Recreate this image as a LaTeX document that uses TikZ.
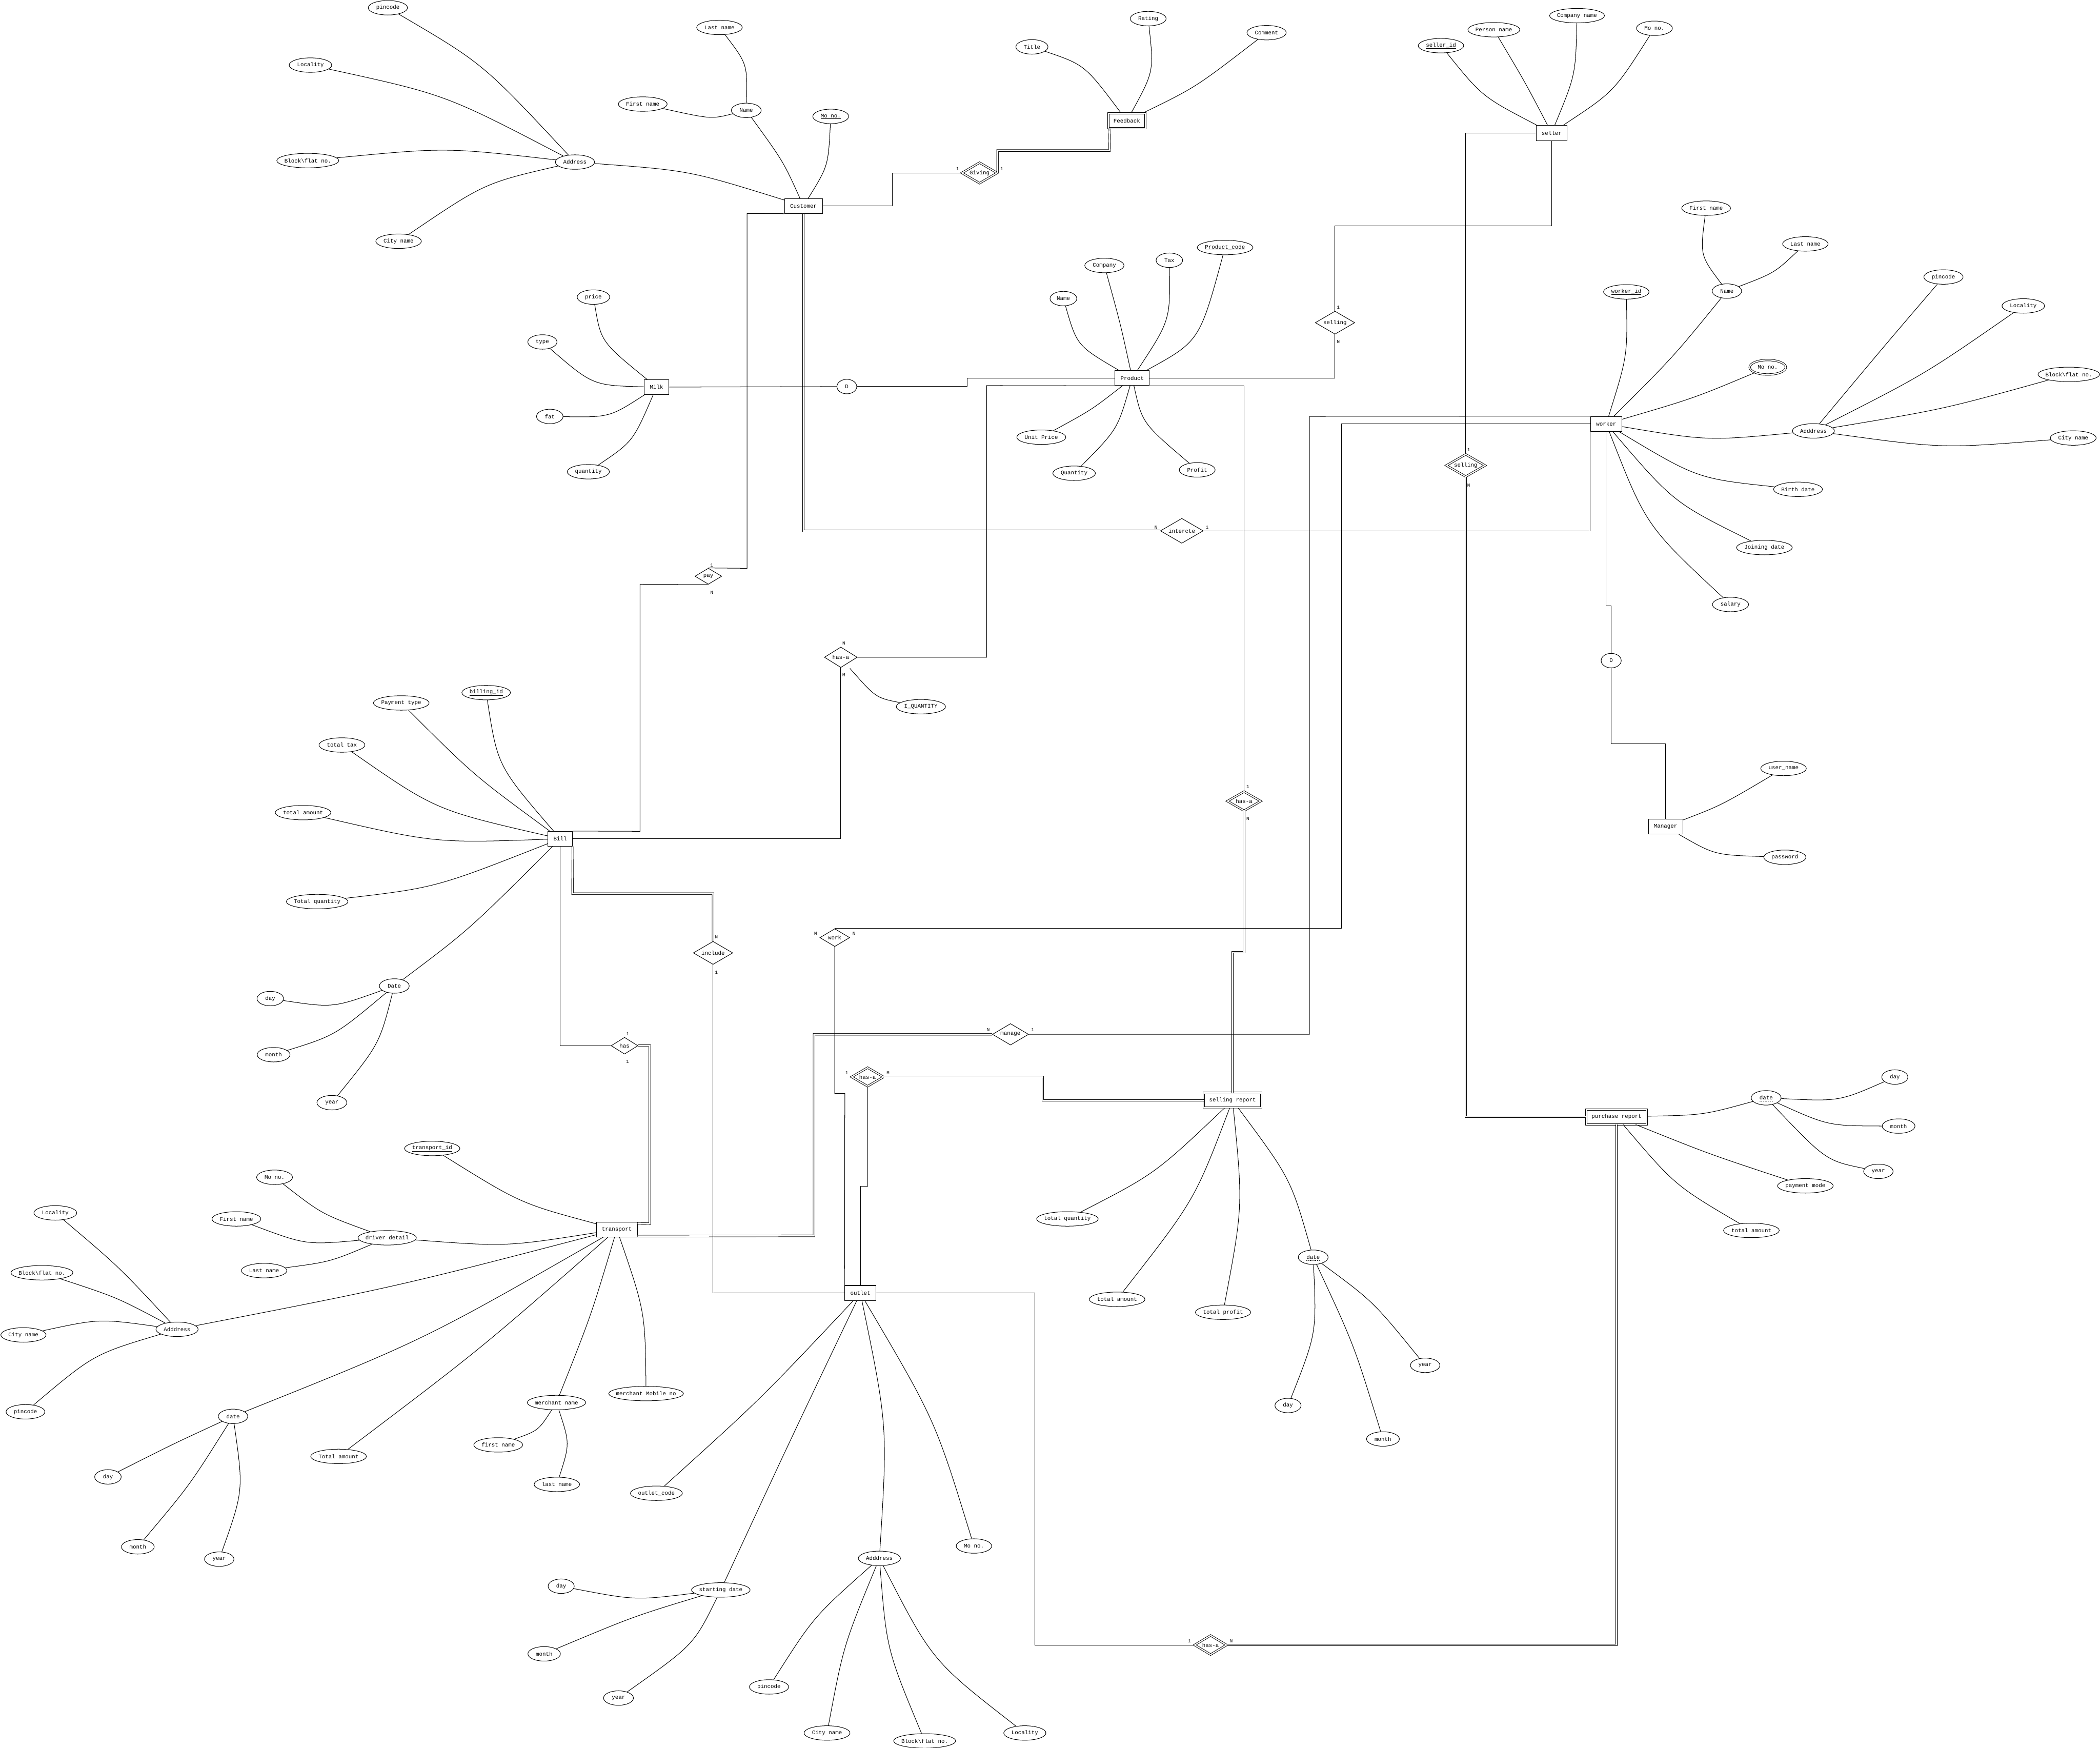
\documentclass[tikz,border=0pt]{standalone}
\usepackage{fontspec}
\newfontfamily\monof{Liberation Mono}
\usetikzlibrary{shapes.geometric,calc}
\tikzset{
 every node/.style={font=\monof\fontsize{11.8}{14}\selectfont},
 attr/.style={ellipse, draw, line width=1.1pt, minimum height=10.8mm, inner sep=0pt, fill=white},
 ent/.style={rectangle, draw, line width=1.1pt, inner sep=0pt, fill=white},
 rel/.style={diamond, draw, line width=1.1pt, inner sep=0pt, fill=white},
 weak/.style={double=white, double distance=2.4pt, line width=1.05pt},
 ln/.style={line width=1.1pt},
 dbl/.style={double=white, double distance=2.8pt, line width=1.0pt},
 card/.style={font=\monof\fontsize{10}{12}\selectfont, inner sep=0pt},
 dashul/.style={line width=0.8pt, dash pattern=on 2.2pt off 1.5pt}
}
\newcommand\attrnode[5]{\node[attr,minimum width=#4mm] (#1) at (#2,#3) {\makebox[0pt]{#5}};}
\newcommand\mattrnode[5]{\node[attr,weak,minimum width=#4mm] (#1) at (#2,#3) {\makebox[0pt]{#5}};}
\newcommand\entnode[6]{\node[ent,minimum width=#4mm,minimum height=#5mm] (#1) at (#2,#3) {\makebox[0pt]{#6}};}
\newcommand\wentnode[6]{\node[ent,weak,minimum width=#4mm,minimum height=#5mm] (#1) at (#2,#3) {\makebox[0pt]{#6}};}
\newcommand\relnode[6]{\node[rel,minimum width=#4mm,minimum height=#5mm] (#1) at (#2,#3) {\makebox[0pt]{#6}};}
\newcommand\wrelnode[6]{\node[rel,weak,minimum width=#4mm,minimum height=#5mm] (#1) at (#2,#3) {\makebox[0pt]{#6}};}
\newcommand\cv[4]{\draw[ln] (#1) .. controls (#3,#4) .. (#2);}
\newcommand\cardnode[4]{\node[card] (#1) at (#2,#3) {#4};}
\newcommand\bsl{\textbackslash}
\begin{document}
\begin{tikzpicture}[x=1mm,y=-1mm]
\fill[white] (0,0) rectangle (1568,1305);
\useasboundingbox (0,0) rectangle (1568,1305);

% ---------- Customer ----------
\attrnode{cpin}{289.6}{5.8}{29.3}{pincode}
\attrnode{cloc}{231.8}{48.6}{31.8}{Locality}
\attrnode{cblk}{229.8}{119.9}{46.3}{Block\bsl flat no.}
\attrnode{ccity}{297.6}{180.1}{34}{City name}
\attrnode{caddr}{429.3}{121.0}{29.3}{Address}
\attrnode{clast}{537.2}{20.5}{34}{Last name}
\attrnode{cfirst}{479.9}{77.7}{36.5}{First name}
\attrnode{cname}{557.2}{82.4}{22.3}{Name}
\attrnode{cmo}{620.3}{86.9}{26.8}{\underline{Mo no.}}
\entnode{cust}{599.9}{153.8}{28.3}{11.1}{Customer}

% ---------- Milk ----------
\attrnode{mprice}{443.1}{221.8}{24.3}{price}
\attrnode{mtype}{405.0}{255.3}{21.8}{type}
\attrnode{mfat}{410.5}{310.9}{19.8}{fat}
\attrnode{mqty}{439.3}{352.2}{31.5}{quantity}
\entnode{milk}{490.2}{289.0}{18.5}{11}{Milk}
\attrnode{D1}{632.3}{288.6}{14.8}{D}

% ---------- Product ----------
\attrnode{pname}{794.0}{222.9}{20}{Name}
\attrnode{pcomp}{824.6}{198.2}{29.3}{Company}
\attrnode{ptax}{873.1}{194.3}{19.8}{Tax}
\attrnode{pcode}{914.7}{184.8}{41.6}{\underline{Product\_code}}
\attrnode{punit}{777.5}{326.4}{36.6}{Unit Price}
\attrnode{pqty}{802.0}{353.3}{31.8}{Quantity}
\attrnode{pprof}{893.9}{350.8}{26.8}{Profit}
\entnode{prod}{845.4}{282.3}{25.7}{11.1}{Product}

% ---------- Feedback ----------
\attrnode{ftitle}{770.5}{35.0}{24}{Title}
\attrnode{frate}{857.3}{13.9}{26.8}{Rating}
\attrnode{fcom}{945.7}{24.4}{29.3}{Comment}
\wentnode{fb}{841.4}{90.2}{27.7}{11.1}{Feedback}

% ---------- Seller ----------
\attrnode{sid}{1075.9}{34.1}{34}{\underline{seller\_id}}
\attrnode{sper}{1115.4}{22.2}{38.8}{Person name}
\attrnode{scomp}{1177.5}{11.7}{41}{Company name}
\attrnode{smo}{1235.3}{21.1}{26.8}{Mo no.}
\entnode{seller}{1158.5}{99.2}{23}{11.4}{seller}

% ---------- Worker ----------
\attrnode{wfirst}{1273.9}{155.4}{36.5}{First name}
\attrnode{wlast}{1348.0}{182.1}{34}{Last name}
\attrnode{wname}{1289.4}{217.3}{22}{Name}
\attrnode{wid}{1214.3}{217.9}{34}{\underline{worker\_id}}
\mattrnode{wmo}{1319.9}{274.2}{27}{Mo no.}
\attrnode{waddr}{1354.0}{321.7}{31.3}{Adddress}
\attrnode{wpin}{1451.1}{206.8}{29.3}{pincode}
\attrnode{wloc}{1510.7}{228.4}{31.8}{Locality}
\attrnode{wblk}{1544.7}{279.5}{46}{Block\bsl flat no.}
\attrnode{wcity}{1548.0}{327.0}{34.3}{City name}
\attrnode{wbirth}{1342.5}{365.3}{36.5}{Birth date}
\attrnode{wjoin}{1317.4}{408.8}{41.6}{Joining date}
\attrnode{wsal}{1292.1}{451.3}{27}{salary}
\entnode{wk}{1199.3}{316.5}{23.5}{11.3}{worker}
\attrnode{D2}{1203.0}{493.2}{15}{D}
\entnode{mgr}{1243.6}{617.2}{25.6}{11.1}{Manager}
\attrnode{muser}{1331.7}{573.7}{34}{user\_name}
\attrnode{mpass}{1332.7}{640.0}{31.5}{password}

% ---------- Bill ----------
\attrnode{bid}{363.0}{517.1}{36.3}{\underline{billing\_id}}
\attrnode{bpay}{299.6}{524.8}{41.6}{Payment type}
\attrnode{btax}{255.3}{556.2}{34.3}{total tax}
\attrnode{bamt}{226.3}{606.7}{41.6}{total amount}
\attrnode{bqty}{236.8}{673.1}{46}{Total quantity}
\attrnode{bdate}{294.4}{736.1}{22.3}{Date}
\attrnode{bday}{201.8}{745.5}{19.8}{day}
\attrnode{bmonth}{204.3}{787.4}{24.5}{month}
\attrnode{byear}{247.8}{823.2}{22.3}{year}
\entnode{bill}{418.3}{626.2}{18.5}{11.1}{Bill}
\attrnode{iq}{687.6}{527.6}{36.8}{I\_QUANTITY}

% ---------- Transport ----------
\attrnode{tid}{322.7}{857.4}{41.3}{\underline{transport\_id}}
\attrnode{tdd}{289.1}{924.1}{43.6}{driver detail}
\attrnode{ddmo}{205.0}{878.9}{26.8}{Mo no.}
\attrnode{ddfirst}{176.5}{910.0}{36.5}{First name}
\attrnode{ddlast}{197.2}{948.6}{34}{Last name}
\attrnode{taloc}{41.3}{905.5}{32}{Locality}
\attrnode{tablk}{31.3}{950.2}{46.3}{Block\bsl flat no.}
\attrnode{tacity}{17.5}{996.6}{33.8}{City name}
\attrnode{tapin}{19.0}{1054.0}{29}{pincode}
\attrnode{taddr}{132.2}{992.4}{31.5}{Adddress}
\attrnode{tdate}{174.0}{1057.4}{22}{date}
\attrnode{tdday}{80.6}{1102.6}{19.8}{day}
\attrnode{tdmonth}{102.9}{1154.8}{24.5}{month}
\attrnode{tdyear}{163.7}{1164.0}{22}{year}
\attrnode{ttot}{252.8}{1087.3}{41.6}{Total amount}
\attrnode{tfirst}{372.0}{1078.7}{36.5}{first name}
\attrnode{tmname}{415.5}{1047.1}{43.6}{merchant name}
\attrnode{tlast}{415.8}{1108.2}{34}{last name}
\attrnode{tmmob}{482.4}{1040.4}{55.8}{merchant Mobile no}
\entnode{tr}{460.6}{917.8}{30.6}{11.1}{transport}

% ---------- Outlet ----------
\attrnode{ocode}{490.1}{1114.8}{38.8}{outlet\_code}
\attrnode{ostart}{538.2}{1187.0}{43.8}{starting date}
\attrnode{oaddr}{656.6}{1163.4}{31.5}{Adddress}
\attrnode{omo}{727.2}{1154.2}{26.5}{Mo no.}
\attrnode{osday}{419.0}{1184.2}{19.5}{day}
\attrnode{osmonth}{406.3}{1234.7}{24.3}{month}
\attrnode{osyear}{461.8}{1267.7}{22.3}{year}
\attrnode{oapin}{574.2}{1259.4}{29.3}{pincode}
\attrnode{oacity}{617.5}{1293.8}{34.3}{City name}
\attrnode{oablk}{690.4}{1299.7}{46.3}{Block\bsl flat no.}
\attrnode{oaloc}{765.2}{1293.8}{31.5}{Locality}
\entnode{outlet}{642.4}{965.4}{23.3}{11.4}{outlet}

% ---------- Selling report ----------
\attrnode{srtq}{797.0}{910.0}{46}{total quantity}
\attrnode{srta}{834.1}{970.0}{41.6}{total amount}
\attrnode{srtp}{913.2}{979.7}{41.3}{total profit}
\attrnode{srdate}{980.5}{938.6}{22.3}{date}
\attrnode{srday}{961.7}{1049.3}{19.5}{day}
\attrnode{srmonth}{1032.6}{1074.3}{24.5}{month}
\attrnode{sryear}{1064.1}{1019.3}{22}{year}
\wentnode{sr}{920.3}{821.5}{42.8}{11.1}{selling report}

% ---------- Purchase report ----------
\attrnode{prdate}{1318.7}{819.6}{22.3}{date}
\attrnode{prday}{1414.8}{804.1}{19.5}{day}
\attrnode{prmonth}{1417.6}{840.7}{24.5}{month}
\attrnode{pryear}{1402.5}{874.5}{22}{year}
\attrnode{prpay}{1348.0}{885.3}{41.6}{payment mode}
\attrnode{prtot}{1307.7}{918.6}{41.6}{total amount}
\wentnode{pr}{1207.0}{833.8}{45}{11.1}{purchase report}

% ---------- Relationships ----------
\wrelnode{giv}{731.4}{129.1}{26.5}{15.5}{Giving}
\relnode{pay}{528.9}{430.2}{20}{12}{pay}
\relnode{selling}{996.8}{240.9}{29.5}{17.2}{selling}
\wrelnode{selling2}{1094.4}{347.5}{29}{16.7}{selling}
\relnode{int}{882.4}{396.3}{32}{18.6}{intercte}
\relnode{hasa1}{627.8}{490.7}{24.5}{15.3}{has-a}
\wrelnode{hasa2}{928.9}{598.1}{25}{14.4}{has-a}
\relnode{inc}{532.4}{711.4}{29.5}{17.2}{include}
\relnode{work}{623.3}{700.0}{22.3}{13.3}{work}
\relnode{manage}{754.5}{772.2}{27}{16}{manage}
\relnode{has}{466.3}{780.7}{20}{12.5}{has}
\wrelnode{hasa3}{647.8}{804.0}{24}{14}{has-a}
\wrelnode{hasa4}{903.9}{1228.1}{24}{14.4}{has-a}

% dashed underlines (partial keys)
\draw[dashul] ($(srdate.center)+(-5,2.6)$) -- ($(srdate.center)+(5,2.6)$);
\draw[dashul] ($(prdate.center)+(-5,2.6)$) -- ($(prdate.center)+(5,2.6)$);

% ---------- Attribute edges ----------
\cv{cpin}{caddr}{360.6}{47.4}
\cv{cloc}{caddr}{332.7}{70.6}
\cv{cblk}{caddr}{333}{110}
\cv{ccity}{caddr}{361.7}{136.7}
\cv{caddr}{cust}{514.8}{127.3}
\cv{cname}{cust}{584.9}{120.6}
\cv{cmo}{cust}{618.4}{123.9}
\cv{clast}{cname}{558.1}{47.9}
\cv{cfirst}{cname}{531}{89}

\cv{mprice}{milk}{448.7}{255.2}
\cv{mtype}{milk}{442.6}{287.8}
\cv{mfat}{milk}{455.1}{311.6}
\cv{mqty}{milk}{472.6}{329.7}

\cv{pname}{prod}{804.1}{258.1}
\cv{pcomp}{prod}{836.8}{242.6}
\cv{ptax}{prod}{873.8}{239.1}
\cv{pcode}{prod}{895.7}{254.8}
\cv{punit}{prod}{815}{306}
\cv{pqty}{prod}{834.4}{320.5}
\cv{pprof}{prod}{852.8}{315.9}

\cv{ftitle}{fb}{810}{48.4}
\cv{frate}{fb}{861.6}{53.4}
\cv{fcom}{fb}{892.8}{65.2}

\cv{sid}{seller}{1106.7}{72.2}
\cv{sper}{seller}{1138.8}{61.5}
\cv{scomp}{seller}{1176.4}{55.9}
\cv{smo}{seller}{1205.1}{68.5}

\cv{wid}{wk}{1215.2}{265.6}
\cv{wname}{wk}{1249.6}{266.2}
\cv{wfirst}{wname}{1269.3}{190.6}
\cv{wlast}{wname}{1324.8}{203.8}
\cv{wmo}{wk}{1264.7}{297.3}
\cv{waddr}{wk}{1275}{329.2}
\cv{wpin}{waddr}{1407.7}{257.4}
\cv{wloc}{waddr}{1437.2}{279.4}
\cv{wblk}{waddr}{1451.2}{305.5}
\cv{wcity}{waddr}{1450.3}{334.9}
\cv{wbirth}{wk}{1267.3}{357.3}
\cv{wjoin}{wk}{1249.6}{375.2}
\cv{wsal}{wk}{1229}{392.5}

\cv{muser}{mgr}{1285.4}{601.1}
\cv{mpass}{mgr}{1280.3}{638.3}

\cv{prdate}{pr}{1271.7}{832.5}
\cv{prday}{prdate}{1373.2}{822.3}
\cv{prmonth}{prdate}{1365}{840.5}
\cv{pryear}{prdate}{1363.4}{866.5}
\cv{prpay}{pr}{1276.4}{861.7}
\cv{prtot}{pr}{1250.6}{885}

\cv{srtq}{sr}{862.6}{876.2}
\cv{srta}{sr}{892.1}{895.8}
\cv{srtp}{sr}{928.1}{900.5}
\cv{srdate}{sr}{963.8}{880}
\cv{srday}{srdate}{983.1}{995.2}
\cv{srmonth}{srdate}{1011}{1004}
\cv{sryear}{srdate}{1025.3}{971.6}

\cv{bid}{bill}{371.5}{571.9}
\cv{bpay}{bill}{354}{579}
\cv{btax}{bill}{325.4}{604.9}
\cv{bamt}{bill}{325.4}{629.5}
\cv{bqty}{bill}{325.4}{662.7}
\cv{bdate}{bill}{350.4}{694}
\cv{bday}{bdate}{248.6}{752.5}
\cv{bmonth}{bdate}{250.3}{773}
\cv{byear}{bdate}{283.3}{779.4}

\cv{tid}{tr}{388.5}{898.4}
\cv{tdd}{tr}{378.1}{930.8}
\cv{taddr}{tr}{296.6}{960.5}
\cv{tdate}{tr}{316.9}{1000.2}
\cv{ttot}{tr}{359}{1007}
\cv{tmname}{tr}{441.2}{982.5}
\cv{tmmob}{tr}{481.7}{979.4}
\cv{tfirst}{tmname}{402}{1068}
\cv{tlast}{tmname}{425.5}{1077.8}
\cv{ddmo}{tdd}{240.3}{906.4}
\cv{ddfirst}{tdd}{228.4}{929.5}
\cv{ddlast}{tdd}{246.7}{942}
\cv{taloc}{taddr}{88.9}{945.8}
\cv{tablk}{taddr}{87.1}{968.5}
\cv{tacity}{taddr}{74.2}{984.4}
\cv{tapin}{taddr}{70}{1011}
\cv{tdday}{tdate}{129.3}{1078}
\cv{tdmonth}{tdate}{141.5}{1109}
\cv{tdyear}{tdate}{181.9}{1112.7}

\cv{ocode}{outlet}{567.9}{1044.5}
\cv{ostart}{outlet}{589}{1077.4}
\cv{oaddr}{outlet}{662.8}{1064.6}
\cv{omo}{outlet}{698.2}{1060}
\cv{osday}{ostart}{474.3}{1194.8}
\cv{osmonth}{ostart}{473.4}{1206.6}
\cv{osyear}{ostart}{518}{1228}
\cv{oapin}{oaddr}{607.5}{1207}
\cv{oacity}{oaddr}{629.8}{1228.5}
\cv{oablk}{oaddr}{662}{1231.4}
\cv{oaloc}{oaddr}{696}{1240}

\coordinate (iqs) at (634.6,499.0);
\draw[ln] (iqs) .. controls (654,521) .. (iq);

% ---------- Relationship connectors ----------
\draw[ln] (cust.east) -- (666.1,153.8) |- (giv.west);
\draw[dbl] (giv.east) |- (828.4,112.4) -- ($(fb.south west)+(0.8,0)$);
\draw[ln] (cust.south west) -- (557.8,159.35) -- (557.8,424.3) -- (pay.north);
\draw[ln] (pay.south) -- (477.9,436.2) -- (477.9,620.65) -- (bill.north east);
\draw[dbl] (cust.south) -- (599.9,396.3) -- (int.west);
\draw[ln] (int.east) -| (wk.south west);
\draw[ln] (milk.east) -- (D1.west);
\draw[ln] (D1.east) -- (722.2,288.6) -- (722.2,282.3) -- (prod.west);
\draw[ln] (bill.east) -| (hasa1.south);
\draw[ln] (hasa1.east) -| (736.7,287.85) -- (prod.south west);
\draw[ln] (prod.south east) -| (hasa2.north);
\draw[dbl] (hasa2.south) -- (928.9,710.8) -- (920.3,710.8) -- (sr.north);
\draw[ln] (prod.east) -| (selling.south);
\draw[ln] (seller.south) |- (996.8,168.5) -- (selling.north);
\draw[ln] (seller.west) -| (selling2.north);
\draw[dbl] (selling2.south) |- (pr.west);
\draw[ln] (wk.west) -- (1001.5,316.5) |- (work.north);
\draw[ln] (wk.north west) -- (977.7,310.85) |- (manage.east);
\draw[dbl] (manage.west) -| (607.8,922.6) -- ($(tr.south east)+(0,-0.7)$);
\draw[ln] (work.south) -- (623.3,816.3) -- (630.8,816.3) -- (outlet.north west);
\draw[ln] (hasa3.south) -- (647.8,885.8) -- (642.4,885.8) -- (outlet.north);
\draw[dbl] (hasa3.east) -- (778.6,804.0) -- (778.6,821.5) -- (sr.west);
\draw[ln] (bill.south) |- (has.west);
\draw[dbl] (has.east) -- (485.1,780.7) -- (485.1,913.5) -- ($(tr.north east)+(0,1.3)$);
\draw[dbl] (bill.south east) -- (427.5,667.2) -| (inc.north);
\draw[ln] (inc.south) |- (outlet.west);
\draw[ln] (outlet.east) -- (772.7,965.4) |- (hasa4.west);
\draw[dbl] (hasa4.east) -| (pr.south);
\draw[ln] (wk.south) -- (1199.3,452.4) -- (1203.0,452.4) -- (D2.north);
\draw[ln] (D2.south) -- (1203.0,555.1) -| (mgr.north);

% ---------- Cardinalities ----------
\cardnode{k1}{714.9}{126.0}{1}
\cardnode{k2}{748.0}{126.0}{1}
\cardnode{k3}{531.4}{421.9}{1}
\cardnode{k4}{531.4}{442.4}{N}
\cardnode{k5}{999.3}{229.3}{1}
\cardnode{k6}{999.3}{255.3}{N}
\cardnode{k7}{1096.6}{335.8}{1}
\cardnode{k8}{1096.6}{362.2}{N}
\cardnode{k9}{863.1}{393.6}{N}
\cardnode{k10}{901.4}{393.6}{1}
\cardnode{k11}{630.1}{480.2}{N}
\cardnode{k12}{630.1}{503.8}{M}
\cardnode{k13}{931.7}{587.3}{1}
\cardnode{k14}{931.7}{611.2}{N}
\cardnode{k15}{534.9}{699.4}{N}
\cardnode{k16}{534.9}{726.1}{1}
\cardnode{k17}{609.0}{697.0}{M}
\cardnode{k18}{637.6}{697.0}{N}
\cardnode{k19}{737.9}{768.8}{N}
\cardnode{k20}{771.0}{768.8}{1}
\cardnode{k21}{468.6}{771.9}{1}
\cardnode{k22}{468.6}{792.7}{1}
\cardnode{k23}{632.3}{801.1}{1}
\cardnode{k24}{663.1}{801.1}{M}
\cardnode{k25}{888.1}{1225.0}{1}
\cardnode{k26}{919.4}{1225.0}{N}
\end{tikzpicture}
\end{document}
